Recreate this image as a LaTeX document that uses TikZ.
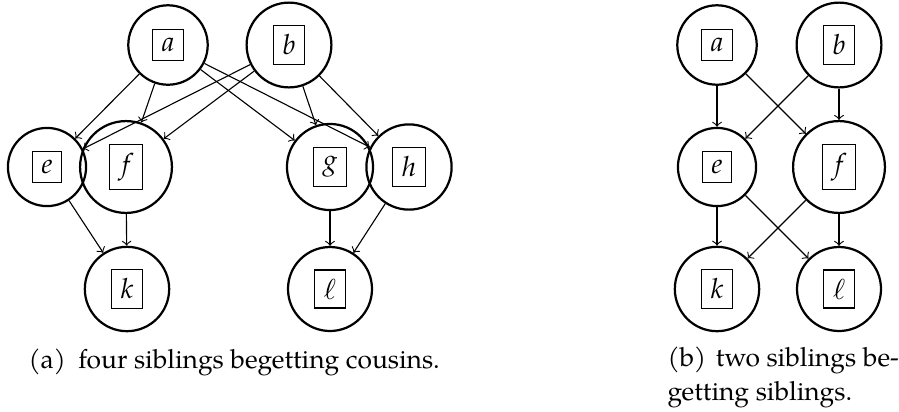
\documentclass[tikz,border=0pt]{standalone}
\usepackage{amsmath}
\usepackage{mathpazo}
\usepackage[no-math]{fontspec}
\setmainfont{texgyrepagella}[Extension=.otf, UprightFont=*-regular, ItalicFont=*-italic, BoldFont=*-bold, BoldItalicFont=*-bolditalic]
\usepackage{tikz}

\tikzset{
  parent/.style={circle, draw, thick, inner sep=4.3pt},
  caption/.style={anchor=base west, inner sep=0pt, font=\fontsize{9.5pt}{12pt}\selectfont}
}

\begin{document}
\begin{tikzpicture}[x=0.36pt, y=-0.36pt, >=to]
    \useasboundingbox (0, 0) rectangle (899, 411);
    % four siblings, two pairs of cousins below
    \node[parent] (a) at (168, 45) {\fbox{$a$}};
    \node[parent] (b) at (289, 45) {\fbox{$b$}};
    \node[parent] (e) at (47, 167) {\fbox{$e$}};
    \node[parent] (f) at (126, 167) {\fbox{$f$}};
    \node[parent] (g) at (330, 167) {\fbox{$g$}};
    \node[parent] (h) at (409, 167) {\fbox{$h$}};
    \node[parent] (k) at (127, 289) {\fbox{$k$}};
    \node[parent] (l) at (330, 289) {\fbox{$\ell$}};
    \draw[->] (a) -- (e);
    \draw[->] (a) -- (f);
    \draw[->] (a) -- (g);
    \draw[->] (a) -- (h);
    \draw[->] (b) -- (e);
    \draw[->] (b) -- (f);
    \draw[->] (b) -- (g);
    \draw[->] (b) -- (h);
    \draw[->] (e) -- (k);
    \draw[->] (f) -- (k);
    \draw[->] (g) -- (l);
    \draw[->] (h) -- (l);
    \node[caption] (capa) at (28, 368) {(a)\hspace{4.5pt}four siblings begetting cousins.};

    % two siblings, two siblings below
    \node[parent] (a2) at (717, 45) {\fbox{$a$}};
    \node[parent] (b2) at (839, 45) {\fbox{$b$}};
    \node[parent] (e2) at (717, 167) {\fbox{$e$}};
    \node[parent] (f2) at (839, 167) {\fbox{$f$}};
    \node[parent] (k2) at (717, 289) {\fbox{$k$}};
    \node[parent] (l2) at (839, 289) {\fbox{$\ell$}};
    \draw[->] (a2) -- (e2);
    \draw[->] (a2) -- (f2);
    \draw[->] (b2) -- (e2);
    \draw[->] (b2) -- (f2);
    \draw[->] (e2) -- (k2);
    \draw[->] (e2) -- (l2);
    \draw[->] (f2) -- (k2);
    \draw[->] (f2) -- (l2);
    \node[caption] (capb) at (667, 366) {(b)\hspace{3.5pt}two siblings be-};
    \node[caption] (capb2) at (667, 400) {getting siblings.};
  \end{tikzpicture}
\end{document}
